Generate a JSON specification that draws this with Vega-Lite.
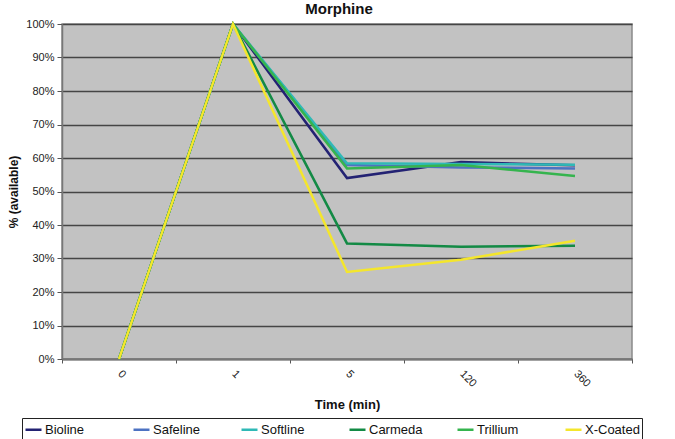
{
  "$schema": "https://vega.github.io/schema/vega-lite/v6.json",
  "width": 570,
  "height": 335,
  "autosize": {"type": "none"},
  "padding": {"left": 62, "top": 24, "right": 43, "bottom": 80},
  "background": "white",
  "title": {"text": "Morphine", "fontSize": 15, "fontWeight": "bold", "font": "Liberation Sans", "color": "#111", "anchor": "middle", "offset": 1, "dx": -8},
  "config": {
    "view": {"fill": "#c2c2c2", "stroke": "#8a8a8a", "strokeWidth": 1.5},
    "font": "Liberation Sans"
  },
  "data": {"values": [
    {"series": "Bioline", "time": "0", "pct": 0},
    {"series": "Bioline", "time": "1", "pct": 100},
    {"series": "Bioline", "time": "5", "pct": 54.0},
    {"series": "Bioline", "time": "120", "pct": 58.8},
    {"series": "Bioline", "time": "360", "pct": 57.8},
    {"series": "Safeline", "time": "0", "pct": 0},
    {"series": "Safeline", "time": "1", "pct": 100},
    {"series": "Safeline", "time": "5", "pct": 57.9},
    {"series": "Safeline", "time": "120", "pct": 57.2},
    {"series": "Safeline", "time": "360", "pct": 56.9},
    {"series": "Softline", "time": "0", "pct": 0},
    {"series": "Softline", "time": "1", "pct": 100},
    {"series": "Softline", "time": "5", "pct": 58.4},
    {"series": "Softline", "time": "120", "pct": 58.2},
    {"series": "Softline", "time": "360", "pct": 58.0},
    {"series": "Carmeda", "time": "0", "pct": 0},
    {"series": "Carmeda", "time": "1", "pct": 100},
    {"series": "Carmeda", "time": "5", "pct": 34.5},
    {"series": "Carmeda", "time": "120", "pct": 33.5},
    {"series": "Carmeda", "time": "360", "pct": 33.8},
    {"series": "Trillium", "time": "0", "pct": 0},
    {"series": "Trillium", "time": "1", "pct": 100},
    {"series": "Trillium", "time": "5", "pct": 56.9},
    {"series": "Trillium", "time": "120", "pct": 57.9},
    {"series": "Trillium", "time": "360", "pct": 54.6},
    {"series": "X-Coated", "time": "0", "pct": 0},
    {"series": "X-Coated", "time": "1", "pct": 100},
    {"series": "X-Coated", "time": "5", "pct": 26.0},
    {"series": "X-Coated", "time": "120", "pct": 29.6},
    {"series": "X-Coated", "time": "360", "pct": 35.3}
  ]},
  "mark": {"type": "line", "strokeWidth": 2.5},
  "encoding": {
    "x": {
      "field": "time", "type": "nominal",
      "sort": ["0", "1", "5", "120", "360"],
      "scale": {"type": "band", "paddingInner": 0, "paddingOuter": 0},
      "axis": {
        "title": "Time (min)", "titleFontSize": 13, "titleFontWeight": "bold", "titleColor": "#111", "titlePadding": 10,
        "labelAngle": 45, "labelAlign": "left", "labelBaseline": "middle", "labelFontSize": 11, "labelColor": "#222", "labelPadding": 9,
        "tickBand": "extent", "tickColor": "#555", "tickSize": 4,
        "domainColor": "#777", "domainWidth": 2, "grid": false
      }
    },
    "y": {
      "field": "pct", "type": "quantitative",
      "scale": {"domain": [0, 100], "nice": false},
      "axis": {
        "title": "% (available)", "titleFontSize": 12, "titleFontWeight": "bold", "titleColor": "#111", "titlePadding": 5,
        "values": [0, 10, 20, 30, 40, 50, 60, 70, 80, 90, 100],
        "labelExpr": "datum.value + '%'", "labelFontSize": 11, "labelColor": "#222", "labelPadding": 3,
        "tickColor": "#555", "tickSize": 5, "domainColor": "#777", "domainWidth": 1.5,
        "grid": true, "gridColor": "#454545", "gridWidth": 1.5
      }
    },
    "color": {
      "field": "series", "type": "nominal",
      "scale": {
        "domain": ["Bioline", "Safeline", "Softline", "Carmeda", "Trillium", "X-Coated"],
        "range": ["#232273", "#4d72c2", "#2fb9b6", "#138a45", "#35b44e", "#f4e62c"]
      },
      "legend": {
        "title": null, "orient": "none", "legendX": -40, "legendY": 394,
        "direction": "horizontal", "columns": 6, "gridAlign": "all", "columnPadding": 28,
        "symbolType": "stroke", "symbolSize": 256, "symbolStrokeWidth": 2.5,
        "labelFontSize": 13, "labelColor": "#111", "labelOffset": 2,
        "strokeColor": "#222", "padding": 2
      }
    }
  }
}
